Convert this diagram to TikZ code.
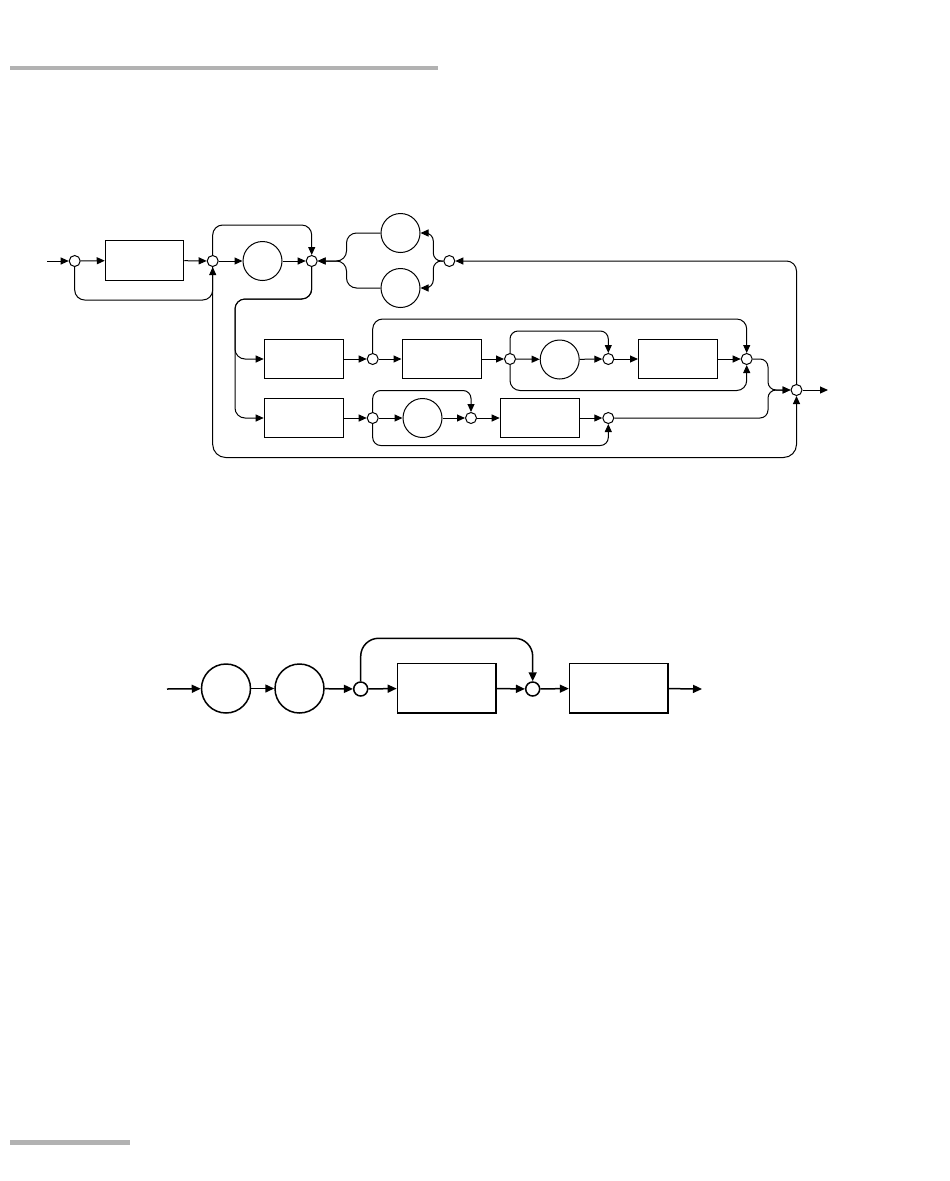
\documentclass[tikz,border=0pt]{standalone}
\usetikzlibrary{arrows.meta,calc}
\definecolor{bargray}{RGB}{178,178,178}
\begin{document}
\begin{tikzpicture}[x=1pt,y=-1pt,line width=1pt,
  junc/.style={circle,draw,fill=white,inner sep=0pt,minimum size=11pt},
  blk/.style={rectangle,draw,inner sep=0pt,minimum width=79pt,minimum height=39.5pt},
  rnd/.style={circle,draw,inner sep=0pt,minimum size=39pt},
  arr/.style={-{Triangle[length=8pt,width=7pt]}},
  bjunc/.style={circle,draw,fill=white,inner sep=0pt,minimum size=14pt},
  bblk/.style={rectangle,draw,inner sep=0pt,minimum width=98.5pt,minimum height=49.5pt},
  brnd/.style={circle,draw,inner sep=0pt,minimum size=49pt},
  barr/.style={-{Triangle[length=9pt,width=8pt]}}]
\useasboundingbox (0,0) rectangle (950,1181);
% gray rules
\fill[bargray] (10,66) rectangle (438,70);
\fill[bargray] (10,1140) rectangle (130,1145);

% ---------- top diagram ----------
\coordinate (in1) at (47,261);
\node[junc] (j1) at (74.7,261) {};
\node[blk,minimum width=78.5pt,minimum height=40pt] (b1) at (144.5,260.3) {};
\node[junc] (j2) at (212.7,261) {};
\node[rnd] (c1) at (262.5,261) {};
\node[junc] (j3) at (311.7,261) {};
\node[rnd] (cT) at (400.5,233) {};
\node[rnd] (cB) at (400.5,288) {};
\node[junc] (j4) at (449.3,261) {};
\node[junc] (fin) at (796.5,390) {};
\coordinate (out1) at (828,390);
\coordinate (split) at (235,299);
\coordinate (merge) at (768,390);
% row 1
\node[blk] (bA) at (303.7,359) {};
\node[junc] (r1a) at (372.7,359) {};
\node[blk] (bC) at (441.5,359) {};
\node[junc] (r1b) at (510,359) {};
\node[rnd] (c2) at (559.7,359.5) {};
\node[junc] (r1c) at (608.3,359) {};
\node[blk] (bD) at (678,359) {};
\node[junc] (r1e) at (746.7,359) {};
% row 2
\node[blk] (bB) at (303.7,418) {};
\node[junc] (r2a) at (372.7,418) {};
\node[rnd] (c3) at (422.5,418) {};
\node[junc] (r2b) at (471,418) {};
\node[blk] (bE) at (539.7,418) {};
\node[junc] (r2c) at (608.3,418) {};

% main line
\draw[arr] (in1) -- (j1);
\draw[arr] (j1) -- (b1);
\draw[arr] (b1) -- (j2);
\draw[arr] (j2) -- (c1);
\draw[arr] (c1) -- (j3);
\draw[arr,rounded corners=10pt] (j1.south) -- ++(0,33) -| (j2.south);
\draw[arr,rounded corners=10pt] (j2.north) -- ++(0,-30) -| (j3.north);
\draw[arr,rounded corners=13pt] (j2.south) -- ++(0,190.5) -| (fin.south);
\draw[arr,rounded corners=10pt] (fin.north) |- (j4.east);
\draw[arr,rounded corners=8pt] (j4.west) -- ++(-10,0) |- (cT.east);
\draw[arr,rounded corners=8pt] (j4.west) -- ++(-10,0) |- (cB.east);
\draw[arr,rounded corners=10pt] (cT.west) -- ++(-34,0) |- (j3.east);
\draw[arr,rounded corners=10pt] (cB.west) -- ++(-34,0) |- (j3.east);
\draw[arr,rounded corners=10pt] (j3.south) |- (split) |- (bA.west);
\draw[arr,rounded corners=10pt] (j3.south) |- (split) |- (bB.west);
% row 1
\draw[arr] (bA) -- (r1a);
\draw[arr] (r1a) -- (bC);
\draw[arr] (bC) -- (r1b);
\draw[arr] (r1b) -- (c2);
\draw[arr] (c2) -- (r1c);
\draw[arr] (r1c) -- (bD);
\draw[arr] (bD) -- (r1e);
\draw[arr,rounded corners=10pt] (r1a.north) -- ++(0,-34) -| (r1e.north);
\draw[arr,rounded corners=8pt] (r1b.north) -- ++(0,-22) -| (r1c.north);
\draw[arr,rounded corners=10pt] (r1b.south) -- ++(0,25.5) -| (r1e.south);
% row 2
\draw[arr] (bB) -- (r2a);
\draw[arr] (r2a) -- (c3);
\draw[arr] (c3) -- (r2b);
\draw[arr] (r2b) -- (bE);
\draw[arr] (bE) -- (r2c);
\draw[arr,rounded corners=8pt] (r2a.north) -- ++(0,-21.5) -| (r2b.north);
\draw[arr,rounded corners=8pt] (r2a.south) -- ++(0,21.5) -| (r2c.south);
% outputs
\draw[arr,rounded corners=8pt] (r1e.east) -| (merge) -- (fin.west);
\draw[arr,rounded corners=8pt] (r2c.east) -| (merge) -- (fin.west);
\draw[arr] (fin) -- (out1);

% ---------- bottom diagram ----------
\begin{scope}[line width=1.5pt]
\coordinate (in2) at (167,689);
\node[brnd] (d1) at (226,688.5) {};
\node[brnd] (d2) at (299.5,688.5) {};
\node[bjunc] (k1) at (360.7,689) {};
\node[bblk] (bF) at (446.7,688) {};
\node[bjunc] (k2) at (532.7,689) {};
\node[bblk] (bG) at (618.8,688) {};
\coordinate (out2) at (702,689);
\draw[barr] (in2) -- (d1);
\draw[barr] (d1) -- (d2);
\draw[barr] (d2) -- (k1);
\draw[barr] (k1) -- (bF);
\draw[barr] (bF) -- (k2);
\draw[barr] (k2) -- (bG);
\draw[barr] (bG) -- (out2);
\draw[barr,rounded corners=18pt] (k1.north) -- ++(0,-43) -| (k2.north);
\end{scope}
\end{tikzpicture}
\end{document}
